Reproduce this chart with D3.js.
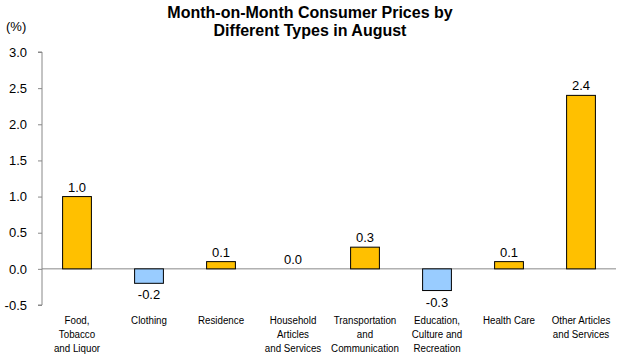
<!DOCTYPE html>
<html><head><meta charset="utf-8">
<script src="https://cdn.jsdelivr.net/npm/d3@7"></script>
<style>body{margin:0;background:#fff}svg{display:block}</style>
</head><body>
<script>
const categories = [["Food,","Tobacco","and Liquor"],["Clothing"],["Residence"],["Household","Articles","and Services"],["Transportation","and","Communication"],["Education,","Culture and","Recreation"],["Health Care"],["Other Articles","and Services"]];
const values = [1.0,-0.2,0.1,0.0,0.3,-0.3,0.1,2.4];
const yTicks = [-0.5,0,0.5,1.0,1.5,2.0,2.5,3.0];
const titleLines = ["Month-on-Month Consumer Prices by","Different Types in August"];

const W=626,H=357;
const fmt=d=>d3.format(".1f")(d).replace("\u2212","-");
const svg=d3.select("body").append("svg").attr("width",W).attr("height",H);
const x=d3.scaleBand().domain(d3.range(values.length)).range([41,617]).paddingInner(0.6).paddingOuter(0.3);
const y=d3.scaleLinear().domain([-0.5,3.0]).range([305,52]);

svg.append("text").attr("x",310).attr("y",18).attr("text-anchor","middle")
  .attr("font-family","Arial, 'Liberation Sans', sans-serif").attr("font-weight","bold").attr("font-size",16)
  .selectAll("tspan").data(titleLines).join("tspan").attr("x",310).attr("dy",(d,i)=>i?18:0).text(d=>d);

svg.append("text").attr("x",6).attr("y",31).attr("font-family","Arial, 'Liberation Sans', sans-serif").attr("font-size",13).text("(%)");

const ax=svg.append("g").attr("transform","translate(42,0)")
  .call(d3.axisLeft(y).tickValues(yTicks).tickFormat(fmt).tickSize(4).tickPadding(11));
ax.select(".domain").attr("stroke","#888").attr("d","M-4,"+y(3)+"H0V"+y(-0.5)+"H-4");
ax.selectAll(".tick line").attr("stroke","#888");
ax.selectAll(".tick text").attr("font-family","Arial, 'Liberation Sans', sans-serif").attr("font-size",13).attr("fill","#000");

svg.append("line").attr("x1",42).attr("x2",616).attr("y1",y(0)).attr("y2",y(0)).attr("stroke","#888");

svg.selectAll("rect.bar").data(values).join("rect").attr("class","bar")
  .attr("x",(d,i)=>x(i)).attr("width",x.bandwidth())
  .attr("y",d=>y(Math.max(0,d))).attr("height",d=>Math.abs(y(d)-y(0)))
  .attr("fill",d=>d<0?"#99CCFF":"#FFC000").attr("stroke","#000").attr("stroke-width",1);

svg.selectAll("text.val").data(values).join("text").attr("class","val")
  .attr("x",(d,i)=>x(i)+x.bandwidth()/2)
  .attr("y",d=>d<0?y(d)+16:y(d)-5)
  .attr("text-anchor","middle").attr("font-family","Arial, 'Liberation Sans', sans-serif").attr("font-size",13)
  .text(fmt);

const cl=svg.selectAll("text.cat").data(categories).join("text").attr("class","cat")
  .attr("font-family","Arial, 'Liberation Sans', sans-serif").attr("font-size",11.5)
  .attr("text-anchor","middle")
  .attr("transform",(d,i)=>`translate(${x(i)+x.bandwidth()/2},324) scale(0.85,1)`);
cl.selectAll("tspan").data(d=>d).join("tspan")
  .attr("x",0).attr("dy",(d,j)=>j?13.8:0).text(d=>d);
</script>
</body></html>
